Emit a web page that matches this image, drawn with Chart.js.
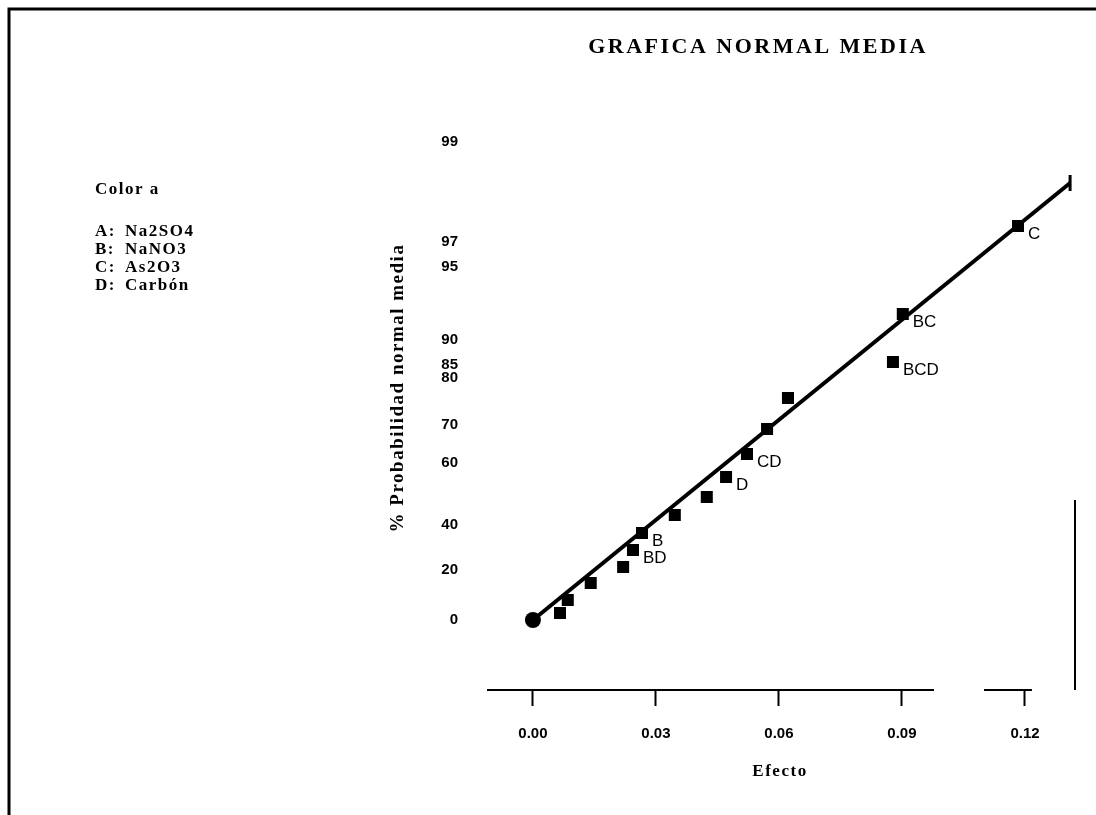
<!DOCTYPE html>
<html>
<head>
<meta charset="utf-8">
<script src="https://cdn.jsdelivr.net/npm/chart.js@4.4.1/dist/chart.umd.min.js"></script>
<style>
  html, body { margin: 0; padding: 0; background: #fff; }
  canvas { display: block; }
</style>
</head>
<body>
<canvas id="chart" width="1096" height="815"></canvas>
<script>
// ── values ──
// effects, sorted by their position on the probability scale
const effectNames = ['', '', '', '', 'BD', 'B', '', '', 'D', 'CD', '', '', 'BCD', 'BC', 'C'];
const effectX = [0.0066, 0.0085, 0.0141, 0.0220, 0.0244, 0.0266, 0.0346, 0.0424, 0.0471, 0.0522, 0.0571, 0.0622, 0.0878, 0.0902, 0.1183];
const effectY = [0.07, 0.20, 0.37, 0.53, 0.70, 0.87, 1.05, 1.23, 1.43, 1.66, 1.91, 2.22, 2.58, 3.06, 3.94];
const originX = [0];
const originY = [0];
// straight reference line
const fitX = [0, 0.131];
const fitY = [0, 4.37];
// axis ticks (probability scale positions as drawn on the scan)
const xTickVals = [0, 0.03, 0.06, 0.09, 0.12];
const xTickLabels = ['0.00', '0.03', '0.06', '0.09', '0.12'];
const yTickVals = [0, 0.50, 0.95, 1.57, 1.95, 2.42, 2.55, 2.80, 3.53, 3.78, 4.78];
const yTickLabels = ['0', '20', '40', '60', '70', '80', '85', '90', '95', '97', '99'];
const legendHead = 'Color a';
const legendKeys = ['A:', 'B:', 'C:', 'D:'];
const legendNames = ['Na2SO4', 'NaNO3', 'As2O3', 'Carbón'];

const SERIF = "'Liberation Serif', 'DejaVu Serif', serif";
const SANS = "'Liberation Sans', Arial, sans-serif";

// ── effect labels next to the squares ──
const pointLabelsPlugin = {
  id: 'pointLabels',
  afterDatasetsDraw(chart) {
    const ctx = chart.ctx;
    const meta = chart.getDatasetMeta(1);
    ctx.save();
    ctx.font = `17px ${SANS}`;
    ctx.fillStyle = '#000';
    ctx.textAlign = 'left';
    ctx.textBaseline = 'middle';
    meta.data.forEach((pt, i) => {
      if (!effectNames[i]) return;
      ctx.fillText(effectNames[i], pt.x + 10, pt.y + 8);
    });
    ctx.restore();
  },
};

// ── frame, broken x axis line, titles and factor key ──
const AXIS_SEGS = [[-0.0112, 0.0978], [0.1100, 0.1217]];

function spaced(ctx, px) {
  if ('letterSpacing' in ctx) ctx.letterSpacing = px + 'px';
}

const decorPlugin = {
  id: 'decor',
  afterDraw(chart) {
    const ctx = chart.ctx;
    const { right, bottom } = chart.chartArea;
    const xs = chart.scales.x;
    ctx.save();
    ctx.strokeStyle = '#000';
    ctx.fillStyle = '#000';

    // page frame (top + left), partial right border
    ctx.lineWidth = 3;
    ctx.beginPath();
    ctx.moveTo(9, 815); ctx.lineTo(9, 9); ctx.lineTo(1096, 9);
    ctx.stroke();
    ctx.lineWidth = 2;
    ctx.beginPath();
    ctx.moveTo(right, 500); ctx.lineTo(right, bottom);
    ctx.stroke();

    // x axis line
    AXIS_SEGS.forEach(([a, b]) => {
      ctx.beginPath();
      ctx.moveTo(xs.getPixelForValue(a), bottom);
      ctx.lineTo(xs.getPixelForValue(b), bottom);
      ctx.stroke();
    });

    // main title
    ctx.textBaseline = 'middle';
    ctx.textAlign = 'center';
    ctx.font = `bold 22px ${SERIF}`;
    spaced(ctx, 2.5);
    ctx.fillText('GRAFICA NORMAL MEDIA', 758, 47);

    // y axis title
    ctx.save();
    ctx.translate(398, 388);
    ctx.rotate(-Math.PI / 2);
    ctx.font = `bold 19px ${SERIF}`;
    spaced(ctx, 1.5);
    ctx.fillText('% Probabilidad normal media', 0, 0);
    ctx.restore();

    // x axis title
    ctx.font = `bold 17px ${SERIF}`;
    spaced(ctx, 1.5);
    ctx.fillText('Efecto', 780, 772);

    // factor key
    ctx.textAlign = 'left';
    ctx.font = `bold 17px ${SERIF}`;
    spaced(ctx, 1.5);
    ctx.fillText(legendHead, 95, 190);
    legendKeys.forEach((k, i) => {
      const y = 232 + i * 18;
      ctx.fillText(k, 95, y);
      ctx.fillText(legendNames[i], 125, y);
    });
    ctx.restore();
  },
};

new Chart(document.getElementById('chart'), {
  type: 'scatter',
  data: {
    datasets: [
      {
        type: 'line',
        data: fitX.map((x, i) => ({ x, y: fitY[i] })),
        borderColor: '#000',
        borderWidth: 4,
        pointStyle: 'line',
        pointRotation: 90,
        pointRadius: [0, 8],
        pointBorderWidth: 3,
        pointBorderColor: '#000',
        fill: false,
      },
      {
        data: effectX.map((x, i) => ({ x, y: effectY[i] })),
        pointStyle: 'rect',
        pointRadius: 8.5,
        backgroundColor: '#000',
        borderColor: '#000',
        borderWidth: 0,
      },
      {
        data: originX.map((x, i) => ({ x, y: originY[i] })),
        pointStyle: 'circle',
        pointRadius: 8,
        backgroundColor: '#000',
        borderColor: '#000',
        borderWidth: 0,
      },
    ],
  },
  plugins: [pointLabelsPlugin, decorPlugin],
  options: {
    responsive: false,
    devicePixelRatio: 1,
    animation: false,
    layout: { padding: { left: 387, right: 21, top: 130, bottom: 35 } },
    plugins: {
      legend: { display: false },
      tooltip: { enabled: false },
      title: { display: false },
    },
    scales: {
      x: {
        type: 'linear',
        min: -0.0112,
        max: 0.1322,
        afterFit: s => { s.height = 90; },
        afterBuildTicks: s => { s.ticks = xTickVals.map(v => ({ value: v })); },
        border: { display: false },
        grid: {
          drawOnChartArea: false,
          drawTicks: true,
          tickLength: 16,
          tickWidth: 2,
          tickColor: '#000',
        },
        ticks: {
          autoSkip: false,
          maxRotation: 0,
          padding: 19,
          color: '#000',
          font: { family: SANS, size: 15, weight: 'bold' },
          callback: (v, i) => xTickLabels[i],
        },
      },
      y: {
        type: 'linear',
        min: -0.7,
        max: 4.9,
        afterFit: s => { s.width = 100; },
        afterBuildTicks: s => { s.ticks = yTickVals.map(v => ({ value: v })); },
        border: { display: false },
        grid: { display: false, drawTicks: false },
        ticks: {
          autoSkip: false,
          padding: 29,
          color: '#000',
          font: { family: SANS, size: 15, weight: 'bold' },
          callback: (v, i) => yTickLabels[i],
        },
      },
    },
  },
});
</script>
</body>
</html>
